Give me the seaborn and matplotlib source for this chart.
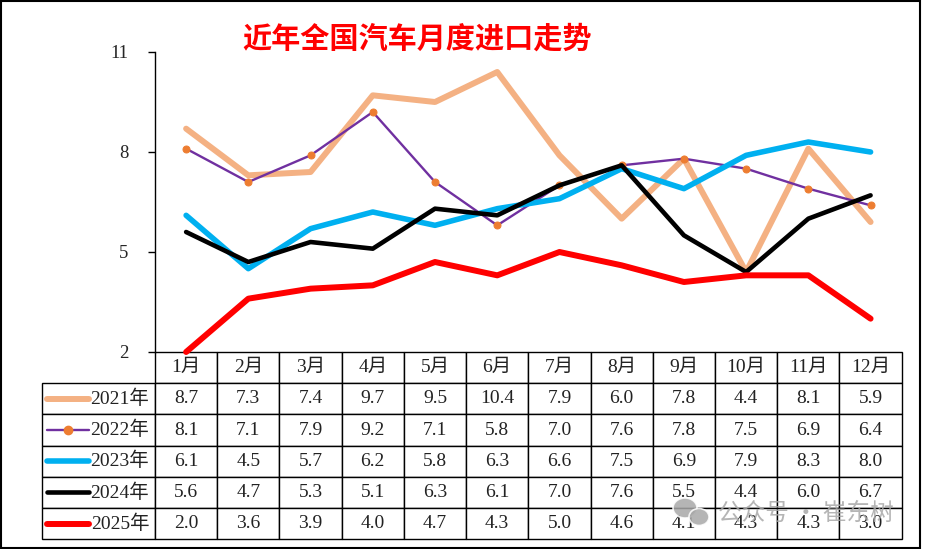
import matplotlib
matplotlib.use("Agg")
import matplotlib.pyplot as plt
import seaborn as sns
import pandas as pd
import numpy as np
from matplotlib.lines import Line2D
from matplotlib.patches import Rectangle, Ellipse

title = "近年全国汽车月度进口走势"
months = ["1月", "2月", "3月", "4月", "5月", "6月", "7月", "8月", "9月", "10月", "11月", "12月"]
years = ["2021年", "2022年", "2023年", "2024年", "2025年"]
v2021 = [8.7, 7.3, 7.4, 9.7, 9.5, 10.4, 7.9, 6.0, 7.8, 4.4, 8.1, 5.9]
v2022 = [8.1, 7.1, 7.9, 9.2, 7.1, 5.8, 7.0, 7.6, 7.8, 7.5, 6.9, 6.4]
v2023 = [6.1, 4.5, 5.7, 6.2, 5.8, 6.3, 6.6, 7.5, 6.9, 7.9, 8.3, 8.0]
v2024 = [5.6, 4.7, 5.3, 5.1, 6.3, 6.1, 7.0, 7.6, 5.5, 4.4, 6.0, 6.7]
v2025 = [2.0, 3.6, 3.9, 4.0, 4.7, 4.3, 5.0, 4.6, 4.1, 4.3, 4.3, 3.0]
yticks = [2, 5, 8, 11]
watermark = "公众号 · 崔东树"

series = [v2021, v2022, v2023, v2024, v2025]
styles = [
    dict(color="#F4B183", linewidth=4.3),
    dict(color="#7030A0", linewidth=1.7, marker="o", markersize=5,
         markerfacecolor="#ED7D31", markeredgecolor="#ED7D31"),
    dict(color="#00B0F0", linewidth=4.0),
    dict(color="#000000", linewidth=3.3),
    dict(color="#FF0000", linewidth=4.3),
]

sns.set_style("white")
plt.rcParams['font.family'] = ['Liberation Serif', 'Noto Sans CJK SC', 'DejaVu Sans']

W, H = 925, 549
fig = plt.figure(figsize=(W / 100, H / 100), dpi=100)
ax_l, ax_r, ax_t, ax_b = 155, 901.7, 52, 352
ax = fig.add_axes([ax_l / W, 1 - ax_b / H, (ax_r - ax_l) / W, (ax_b - ax_t) / H])

df = pd.DataFrame({"month": np.tile(np.arange(12), len(years)),
                   "year": np.repeat(years, 12),
                   "value": np.concatenate(series)})

for yr, st in zip(years, styles):
    sub = df[df["year"] == yr]
    sns.lineplot(data=sub, x="month", y="value", ax=ax, legend=False,
                 solid_capstyle="round", solid_joinstyle="round", clip_on=False, **st)

ax.set_xlim(-0.5, 11.5)
ax.set_ylim(2, 11)
ax.set_yticks(yticks)
ax.set_yticklabels([str(t) for t in yticks])
ax.set_xticks([])
ax.set_xlabel("")
ax.set_ylabel("")
for s in ["top", "right", "bottom"]:
    ax.spines[s].set_visible(False)
ax.spines["left"].set_color("black")
ax.spines["left"].set_linewidth(1.0)
ax.tick_params(axis="y", direction="out", length=5, width=1, color="black",
               labelsize=13.5, pad=14, left=True)

# data table
axw = ax_r - ax_l
axh = ax_b - ax_t
tab_l, tab_b = 42.3, 539.3
cell_text = [[""] + months]
for yr, vals in zip(years, series):
    cell_text.append([yr] + [f"{v:.1f}" for v in vals])
label_w = ax_l - tab_l
col_w = axw / 12
widths = [label_w] + [col_w] * 12
tot = sum(widths)
tbl = ax.table(cellText=cell_text, cellLoc="center",
               colWidths=[w / tot for w in widths],
               bbox=[(tab_l - ax_l) / axw, (ax_b - tab_b) / axh,
                     (ax_r - tab_l) / axw, (tab_b - ax_b) / axh])
tbl.auto_set_font_size(False)
tbl.set_fontsize(14)
for (r, c), cell in tbl.get_celld().items():
    cell.set_linewidth(1.0)
    cell.set_edgecolor("black")
    cell.get_text().set_color("#222222")
    if r == 0 and c == 0:
        cell.visible_edges = "open"
    if c == 0 and r > 0:
        cell.get_text().set_ha("right")
        cell.PAD = 0.05

# legend samples in table
row_h = (tab_b - ax_b) / 6
for i, st in enumerate(styles):
    py = ax_b + row_h * (i + 1.5)
    yy = (ax_b - py) / axh
    x0 = (47 - ax_l) / axw
    x1 = (89 - ax_l) / axw
    kw = {k: v for k, v in st.items() if k not in ("marker", "markersize", "markerfacecolor", "markeredgecolor")}
    ax.add_line(Line2D([x0, x1], [yy, yy], transform=ax.transAxes, clip_on=False,
                       solid_capstyle="round", **kw))
    if "marker" in st:
        ax.add_line(Line2D([(x0 + x1) / 2], [yy], transform=ax.transAxes, clip_on=False,
                           linestyle="none", marker="o", markersize=st["markersize"] + 1,
                           markerfacecolor=st["markerfacecolor"], markeredgecolor=st["markeredgecolor"]))

fig.text(417.5 / W, 1 - 39 / H, title, color="#FF0000", fontsize=21, ha="center", va="center",
         fontweight="bold", family=["Noto Sans CJK SC", "DejaVu Sans"])
fig.text(806 / W, 1 - 513 / H, watermark, color="#a8a8a8", alpha=0.85, fontsize=17,
         ha="center", va="center", zorder=20, family=["Noto Sans CJK SC", "DejaVu Sans"])
# wechat-like icon of the watermark
for (cx, cy, w, h) in [(685, 508, 24, 20), (699, 517, 20, 17)]:
    fig.patches.append(Ellipse((cx / W, 1 - cy / H), w / W, h / H, transform=fig.transFigure,
                               facecolor="#a8a8a8", edgecolor="white", linewidth=1.2,
                               alpha=0.85, zorder=20))

fig.patches.append(Rectangle((1 / W, 1 - 548 / H), 919 / W, 547 / H, transform=fig.transFigure,
                             fill=False, edgecolor="black", linewidth=1.5, zorder=21))

fig.savefig("out.png", dpi=100)
